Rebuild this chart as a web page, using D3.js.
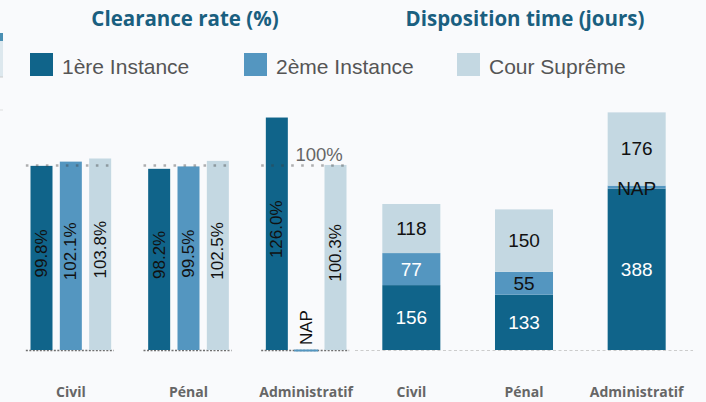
<!DOCTYPE html>
<html><head><meta charset="utf-8">
<script src="https://cdn.jsdelivr.net/npm/d3@7"></script>
<style>
html,body{margin:0;padding:0;background:#f9fafc;}
svg{display:block;}
</style></head>
<body>
<svg id="chart" width="706" height="402"></svg>
<script>
// ---- data ----
const categories = ["Civil", "Pénal", "Administratif"];
const seriesNames = ["1ère Instance", "2ème Instance", "Cour Suprême"];
const clearance1 = [99.8, 98.2, 126.0];
const clearance2 = [102.1, 99.5, null];   // null = NAP
const clearanceCS = [103.8, 102.5, 100.3];
const dispo1 = [156, 133, 388];
const dispo2 = [77, 55, null];            // null = NAP
const dispoCS = [118, 150, 176];
const referenceValue = 100;

// ---- style ----
const colors = ["#10648a", "#5496c0", "#c4d8e2"];
const dispoLabelFill = [["#ffffff","#ffffff","#ffffff"], ["#ffffff","#111111","#111111"], ["#111111","#111111","#111111"]];
const titleColor = "#1a5f80";

const svg = d3.select("#chart");

// left-edge fragment
svg.append("rect").attr("x",0).attr("y",33).attr("width",3).attr("height",8).attr("fill","#4a8fb3");
svg.append("rect").attr("x",0).attr("y",41).attr("width",3).attr("height",36).attr("fill","#dde8ee");
svg.append("rect").attr("x",0).attr("y",76.5).attr("width",3).attr("height",1).attr("fill","#cccccc");
svg.append("rect").attr("x",0).attr("y",109.5).attr("width",3).attr("height",1).attr("fill","#dddddd");

// titles
svg.append("text").attr("x",185).attr("y",26).attr("text-anchor","middle")
  .attr("font-family","Open Sans").attr("font-weight","bold").attr("font-size",20.5)
  .attr("fill",titleColor).text("Clearance rate (%)");
svg.append("text").attr("x",525).attr("y",26).attr("text-anchor","middle")
  .attr("font-family","Open Sans").attr("font-weight","bold").attr("font-size",20.5)
  .attr("fill",titleColor).text("Disposition time (jours)");

// legend
const legendX = [30, 244, 457];
seriesNames.forEach((s,i)=>{
  const g = svg.append("g").attr("transform",`translate(${legendX[i]},53)`);
  g.append("rect").attr("width",23).attr("height",23).attr("fill",colors[i]);
  g.append("text").attr("x",32).attr("y",20.5).attr("font-family","Liberation Sans, Arial")
    .attr("font-size",21).attr("fill","#555").text(s);
});

// ---- left chart: clearance rate ----
const baseY = 350;
const xL = d3.scaleBand().domain(categories).range([12, 365]);
const xLi = d3.scaleBand().domain(seriesNames).range([-44, 44]).paddingInner(0.25).paddingOuter(0.125);
const yL = d3.scaleLinear().domain([0, 100]).range([baseY, 165.5]);
const clearance = [clearance1, clearance2, clearanceCS];

const gL = svg.append("g");
categories.forEach((c,ci)=>{
  const cx = xL(c) + xL.bandwidth()/2;
  const g = gL.append("g").attr("transform",`translate(${cx},0)`);
  g.append("line").attr("x1",-45).attr("x2",43).attr("y1",baseY+0.5).attr("y2",baseY+0.5)
    .attr("stroke","#6f6f6f").attr("stroke-width",1.4).attr("stroke-dasharray","2,1.5");
  seriesNames.forEach((s,si)=>{
    const v = clearance[si][ci];
    const x = xLi(s), w = xLi.bandwidth();
    if (v == null) {
      g.append("rect").attr("x",x-1).attr("y",baseY-0.5).attr("width",w+2).attr("height",2).attr("fill",colors[si]);
      g.append("text").attr("transform",`translate(${x+w/2},${baseY-5}) rotate(-90)`)
        .attr("dominant-baseline","central").attr("font-family","Liberation Sans, Arial")
        .attr("font-size",17).attr("fill","#111").text("NAP");
    } else {
      g.append("rect").attr("x",x).attr("y",yL(v)).attr("width",w).attr("height",baseY-yL(v)).attr("fill",colors[si]);
      const my = (yL(v)+baseY)/2 - 4.5;
      g.append("text").attr("transform",`translate(${x+w/2},${my}) rotate(-90)`)
        .attr("text-anchor","middle").attr("dominant-baseline","central")
        .attr("font-family","Liberation Sans, Arial").attr("font-size",17).attr("fill","#111")
        .text(d3.format(".1f")(v) + "%");
    }
  });
  g.append("line").attr("x1",-45).attr("x2",41).attr("y1",yL(referenceValue)).attr("y2",yL(referenceValue))
    .attr("stroke","rgba(60,60,60,0.4)").attr("stroke-width",2.6).attr("stroke-dasharray","2.6,7.4");
});
{
  const cx = xL(categories[2]) + xL.bandwidth()/2;
  svg.append("text").attr("x",cx+13).attr("y",yL(referenceValue)-4.5).attr("text-anchor","middle")
    .attr("font-family","Liberation Sans, Arial").attr("font-size",18.5).attr("fill","#666")
    .text(referenceValue + "%");
}
categories.forEach(c=>{
  svg.append("text").attr("x",xL(c)+xL.bandwidth()/2).attr("y",397).attr("text-anchor","middle")
    .attr("font-family","Open Sans").attr("font-weight","bold").attr("font-size",14).attr("fill","#666").text(c);
});

// ---- right chart: disposition time (stacked) ----
const xR = d3.scaleBand().domain(categories).range([355, 693]).paddingInner(0.485).paddingOuter(0.2425);
const yR = d3.scaleLinear().domain([0, 100]).range([baseY, baseY - 41.6]);
const dispo = [dispo1, dispo2, dispoCS];
const napStub = 3;

svg.append("line").attr("x1",355).attr("x2",693).attr("y1",baseY+0.5).attr("y2",baseY+0.5)
  .attr("stroke","#cccccc").attr("stroke-width",1.2).attr("stroke-dasharray","3,2.5");

const gBars = svg.append("g"), gLabels = svg.append("g");
categories.forEach((c,ci)=>{
  let top = baseY;
  const x = xR(c), w = xR.bandwidth();
  seriesNames.forEach((s,si)=>{
    const v = dispo[si][ci];
    let h, label, ly;
    if (v == null) { h = napStub; label = "NAP"; }
    else { h = baseY - yR(v); label = String(v); }
    const y0 = top - h;
    ly = v == null ? y0 + h/2 + 1.5 : y0 + h/2;
    gBars.append("rect").attr("x",x).attr("y",y0).attr("width",w).attr("height",h).attr("fill",colors[si]);
    gLabels.append("text").attr("x",x+w/2).attr("y",ly).attr("text-anchor","middle")
      .attr("dominant-baseline","central").attr("font-family","Liberation Sans, Arial")
      .attr("font-size",19).attr("fill",dispoLabelFill[si][ci]).text(label);
    top = y0;
  });
  svg.append("text").attr("x",x+w/2).attr("y",397).attr("text-anchor","middle")
    .attr("font-family","Open Sans").attr("font-weight","bold").attr("font-size",14).attr("fill","#666").text(c);
});
</script>
</body></html>
